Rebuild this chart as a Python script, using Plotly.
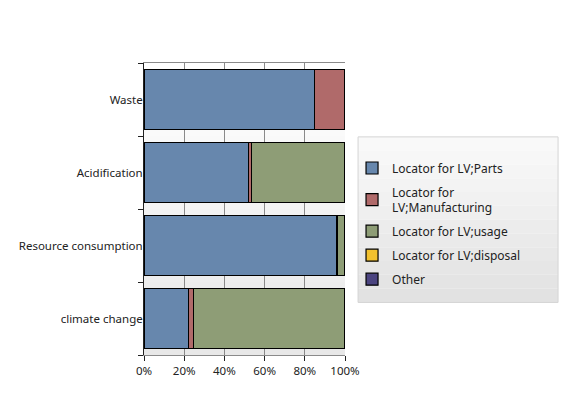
import plotly.graph_objects as go

categories = ["climate change", "Resource consumption", "Acidification", "Waste"]
series_names = ["Locator for LV;Parts", "Locator for<br>LV;Manufacturing",
                "Locator for LV;usage", "Locator for LV;disposal", "Other"]
parts = [22, 96, 52, 85]
manufacturing = [2.5, 0, 1.5, 15]
usage = [75.5, 4, 46.5, 0]
disposal = [0, 0, 0, 0]
other = [0, 0, 0, 0]
x_ticks = [0, 20, 40, 60, 80, 100]
x_tick_labels = ["0%", "20%", "40%", "60%", "80%", "100%"]

values = [parts, manufacturing, usage, disposal, other]
colors = ["#6787ad", "#b06a6a", "#8e9d76", "#f2c12e", "#4b4480"]

fig = go.Figure()
for i, (name, vals, col) in enumerate(zip(series_names, values, colors)):
    fig.add_trace(go.Bar(
        y=categories, x=vals, name=name, orientation="h",
        marker=dict(color=col, line=dict(color="#000000", width=1.2)),
        legendgroup=f"g{i}",
    ))

shapes = []
n = 20
for k in range(n):
    t = k / (n - 1)
    g = int(round(255 - t * (255 - 232)))
    shapes.append(dict(type="rect", xref="paper", yref="paper",
                       x0=0, x1=1, y0=1 - (k + 1) / n, y1=1 - k / n,
                       fillcolor=f"rgb({g},{g},{g})", line=dict(width=0), layer="below"))
# legend background box (vertical gradient)
ly0, ly1 = 0.18, 0.747
m = 12
for k in range(m):
    t = k / (m - 1)
    g = int(round(249 - t * (249 - 226)))
    shapes.append(dict(type="rect", xref="paper", yref="paper",
                       x0=1.065, x1=2.06,
                       y0=ly1 - (k + 1) * (ly1 - ly0) / m, y1=ly1 - k * (ly1 - ly0) / m,
                       fillcolor=f"rgb({g},{g},{g})", line=dict(width=0), layer="below"))
shapes.append(dict(type="rect", xref="paper", yref="paper",
                   x0=1.065, x1=2.06, y0=ly0, y1=ly1,
                   fillcolor="rgba(0,0,0,0)", line=dict(color="#d4d4d4", width=1), layer="below"))

fig.update_layout(
    barmode="stack",
    bargap=0.18,
    width=553, height=383,
    margin=dict(l=136, r=216, t=55, b=36),
    paper_bgcolor="white",
    plot_bgcolor="rgba(0,0,0,0)",
    font=dict(family="Noto Sans", size=11.5, color="#222222"),
    shapes=shapes,
    showlegend=True,
    legend=dict(x=1.035, y=0.69, xanchor="left", yanchor="top",
                bgcolor="rgba(0,0,0,0)", borderwidth=0,
                tracegroupgap=5, font=dict(size=12, color="#222222"),
                traceorder="grouped"),
    xaxis=dict(range=[0, 100], tickvals=x_ticks, ticktext=x_tick_labels,
               showgrid=True, gridcolor="#8a8a8a", gridwidth=1,
               showline=True, linecolor="#8a8a8a", mirror=True,
               ticks="outside", ticklen=5, tickcolor="#222222",
               zeroline=False, fixedrange=True, automargin=False),
    yaxis=dict(categoryorder="array", categoryarray=categories,
               showline=True, linecolor="#222222", linewidth=1,
               ticks="outside", ticklen=5, tickcolor="#222222",
               tickson="boundaries", showgrid=False, automargin=False,
               ticklabelstandoff=-2),
)

fig.write_html("out.html")
